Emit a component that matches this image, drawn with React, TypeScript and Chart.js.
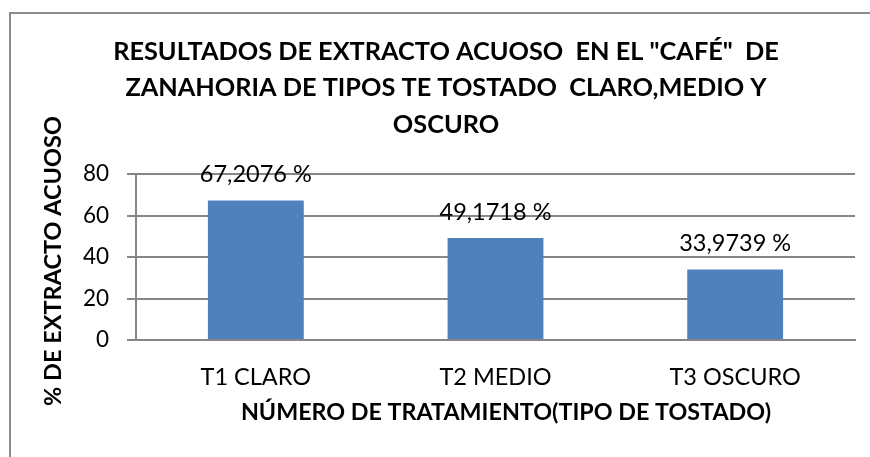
import React, { useEffect, useRef } from "react";
import { Chart, registerables } from "chart.js";

Chart.register(...registerables);

const categories = ["T1 CLARO", "T2 MEDIO", "T3 OSCURO"];
const values = [67.2076, 49.1718, 33.9739];
const valueLabels = ["67,2076 %", "49,1718 %", "33,9739 %"];
const titleLines = [
  'RESULTADOS DE EXTRACTO ACUOSO  EN EL "CAFÉ"  DE',
  "ZANAHORIA DE TIPOS TE TOSTADO  CLARO,MEDIO Y",
  "OSCURO",
];
const yTitle = "% DE EXTRACTO ACUOSO";
const xTitle = "NÚMERO DE TRATAMIENTO(TIPO DE TOSTADO)";

const FONT = "Lato";

const textPlugin = {
  id: "customText",
  afterDraw(chart: any) {
    const ctx = chart.ctx;
    ctx.save();
    ctx.fillStyle = "#000";
    ctx.textAlign = "center";
    ctx.textBaseline = "middle";
    // title
    ctx.font = `bold 25.3px ${FONT}`;
    const tys = [52, 88, 125];
    titleLines.forEach((l, i) => ctx.fillText(l, 446, tys[i]));
    // x title
    ctx.font = `bold 23.3px ${FONT}`;
    ctx.fillText(xTitle, 506, 412);
    // y title
    ctx.save();
    ctx.translate(53, 261);
    ctx.rotate(-Math.PI / 2);
    ctx.font = `bold 23.5px ${FONT}`;
    ctx.fillText(yTitle, 0, 0);
    ctx.restore();
    // data labels
    ctx.font = `23.5px ${FONT}`;
    const meta = chart.getDatasetMeta(0);
    meta.data.forEach((bar: any, i: number) => {
      ctx.fillText(valueLabels[i], bar.x, bar.y - 26);
    });
    ctx.restore();
  },
};

export default function App() {
  const ref = useRef<HTMLCanvasElement>(null);
  useEffect(() => {
    const chart = new Chart(ref.current!, {
      type: "bar",
      data: {
        labels: categories,
        datasets: [
          {
            data: values,
            backgroundColor: "#4F81BD",
            borderWidth: 0,
            categoryPercentage: 1,
            barPercentage: 0.4,
          },
        ],
      },
      options: {
        responsive: false,
        animation: false,
        events: [],
        layout: { padding: { top: 174, right: 15, left: 0, bottom: 0 } },
        plugins: {
          legend: { display: false },
          title: { display: false },
          tooltip: { enabled: false },
        },
        scales: {
          x: {
            grid: { display: false, drawTicks: false },
            border: { display: true, color: "#868686", width: 2 },
            ticks: {
              color: "#000",
              font: { family: FONT, size: 23.5 },
              padding: 23,
            },
            afterFit: (s: any) => {
              s.height = 117;
            },
          },
          y: {
            min: 0,
            max: 80,
            ticks: {
              stepSize: 20,
              color: "#000",
              font: { family: FONT, size: 22.5 },
              padding: 18,
            },
            grid: { color: "#868686", lineWidth: 2, tickLength: 9 },
            border: { display: true, color: "#868686", width: 2 },
            afterFit: (s: any) => {
              s.width = 136;
            },
          },
        },
      },
      plugins: [textPlugin],
    });
    return () => chart.destroy();
  }, []);
  return (
    <div style={{ position: "fixed", left: 0, top: 0, width: 870, height: 457, background: "#fff" }}>
      <canvas ref={ref} width={870} height={457} style={{ position: "absolute", left: 0, top: 0 }} />
      <div
        style={{
          position: "absolute",
          left: 9,
          top: 12,
          width: 900,
          height: 500,
          borderLeft: "2px solid #8c8c8c",
          borderTop: "2px solid #8c8c8c",
          pointerEvents: "none",
        }}
      />
    </div>
  );
}
